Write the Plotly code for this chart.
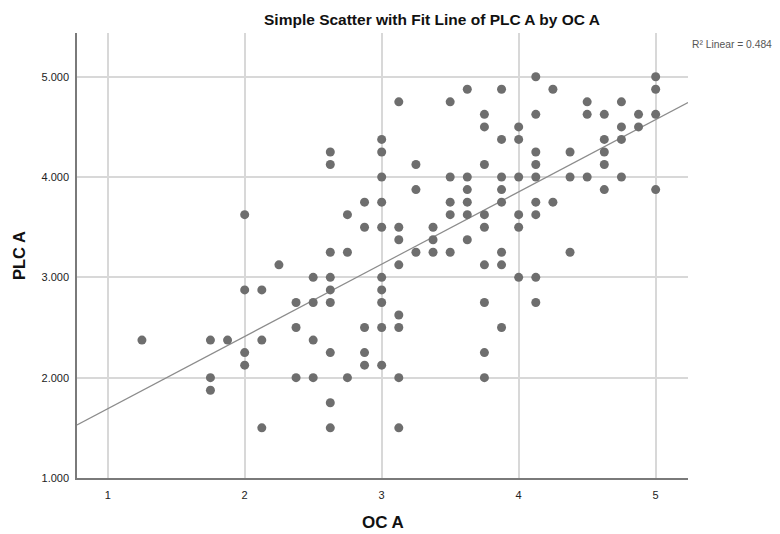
import numpy as np
import plotly.graph_objects as go

# Data: OC A (x) and PLC A (y), grouped by x value
x_levels = [1.25, 1.75, 1.875, 2.0, 2.125, 2.25, 2.375, 2.5, 2.625, 2.75, 2.875,
            3.0, 3.125, 3.25, 3.375, 3.5, 3.625, 3.75, 3.875, 4.0, 4.125, 4.25,
            4.375, 4.5, 4.625, 4.75, 4.875, 5.0]
y_groups = [
    [2.375],
    [2.375, 2.0, 1.875],
    [2.375],
    [3.625, 2.875, 2.25, 2.125],
    [2.875, 2.375, 1.5],
    [3.125],
    [2.75, 2.5, 2.0],
    [3.0, 2.75, 2.375, 2.0],
    [4.25, 4.125, 3.25, 3.0, 2.875, 2.75, 2.25, 1.75, 1.5],
    [3.625, 3.25, 2.0],
    [3.75, 3.5, 2.5, 2.25, 2.125],
    [4.375, 4.25, 4.0, 3.75, 3.5, 3.0, 2.875, 2.75, 2.5, 2.125],
    [4.75, 3.5, 3.375, 3.125, 2.625, 2.5, 2.0, 1.5],
    [4.125, 3.875, 3.25],
    [3.5, 3.375, 3.25],
    [4.75, 4.0, 3.75, 3.625, 3.25],
    [4.875, 4.0, 3.875, 3.75, 3.625, 3.375],
    [4.625, 4.5, 4.125, 3.625, 3.5, 3.125, 2.75, 2.25, 2.0],
    [4.875, 4.375, 4.0, 3.875, 3.75, 3.25, 3.125, 2.5],
    [4.5, 4.375, 4.0, 3.625, 3.5, 3.0],
    [5.0, 4.625, 4.25, 4.125, 4.0, 3.75, 3.625, 3.0, 2.75],
    [4.875, 3.75],
    [4.25, 4.0, 3.25],
    [4.75, 4.625, 4.0],
    [4.625, 4.375, 4.25, 4.125, 3.875],
    [4.75, 4.5, 4.375, 4.0],
    [4.625, 4.5],
    [5.0, 4.875, 4.625, 3.875],
]
x_tick_vals = [1, 2, 3, 4, 5]
y_tick_vals = [1, 2, 3, 4, 5]
y_tick_text = ["1.000", "2.000", "3.000", "4.000", "5.000"]
r2_label = "R² Linear = 0.484"
title_text = "Simple Scatter with Fit Line of PLC A by OC A"

xs = []
ys = []
for xv, grp in zip(x_levels, y_groups):
    for yv in grp:
        xs.append(xv)
        ys.append(yv)
xs = np.array(xs)
ys = np.array(ys)

slope, intercept = np.polyfit(xs, ys, 1)
x_range = [0.776, 5.236]
y_range = [1.0, 5.436]
line_x = np.array(x_range)
line_y = intercept + slope * line_x

FONT = "Liberation Sans, Arial, sans-serif"

# page body has an 8px margin; the figure is offset accordingly
OFF = 8
PL, PR, PT, PB = 77, 688, 33, 478  # plot area in window pixels
W, H = 780 - OFF, 534 - OFF
pw, ph = PR - PL, PB - PT

fig = go.Figure()
fig.add_trace(go.Scatter(x=line_x, y=line_y, mode="lines",
                         line=dict(color="#8c8c8c", width=1.2),
                         hoverinfo="skip", showlegend=False))
fig.add_trace(go.Scatter(x=xs, y=ys, mode="markers",
                         marker=dict(color="#6e6e6e", size=9, line=dict(width=0)),
                         showlegend=False))

def px_x(p):
    return (p - PL) / pw

def px_y(p):
    return (PB - p) / ph

fig.update_layout(
    width=W, height=H,
    margin=dict(l=PL - OFF, r=W - (PR - OFF), t=PT - OFF, b=H - (PB - OFF)),
    paper_bgcolor="white", plot_bgcolor="white",
    font=dict(family=FONT, color="#222"),
    xaxis=dict(range=x_range, tickvals=x_tick_vals, ticktext=[str(v) for v in x_tick_vals],
               showgrid=True, gridcolor="#d8d8d8", gridwidth=1.5,
               showline=True, linecolor="#7a7a7a", linewidth=1.5,
               zeroline=False, ticks="", tickfont=dict(size=11, color="#222"),
               ticklabelstandoff=6),
    yaxis=dict(range=y_range, tickvals=y_tick_vals, ticktext=y_tick_text,
               showgrid=True, gridcolor="#d8d8d8", gridwidth=1.5,
               showline=True, linecolor="#7a7a7a", linewidth=1.5,
               zeroline=False, ticks="", tickfont=dict(size=11, color="#222"),
               ticklabelstandoff=4),
    annotations=[
        dict(text="<b>" + title_text + "</b>", xref="paper", yref="paper",
             x=px_x(432), y=px_y(19), xanchor="center", yanchor="middle",
             showarrow=False, font=dict(size=15.5, color="#111", family=FONT)),
        dict(text=r2_label, xref="paper", yref="paper",
             x=px_x(690), y=px_y(44), xanchor="left", yanchor="middle",
             showarrow=False, font=dict(size=10.3, color="#555", family=FONT)),
        dict(text="<b>OC A</b>", xref="paper", yref="paper",
             x=px_x(383), y=px_y(522), xanchor="center", yanchor="middle",
             showarrow=False, font=dict(size=17, color="#111", family=FONT)),
        dict(text="<b>PLC A</b>", xref="paper", yref="paper",
             x=px_x(19), y=px_y(256), xanchor="center", yanchor="middle",
             textangle=-90, showarrow=False, font=dict(size=16.5, color="#111", family=FONT)),
    ],
)

fig.write_html("out.html")
